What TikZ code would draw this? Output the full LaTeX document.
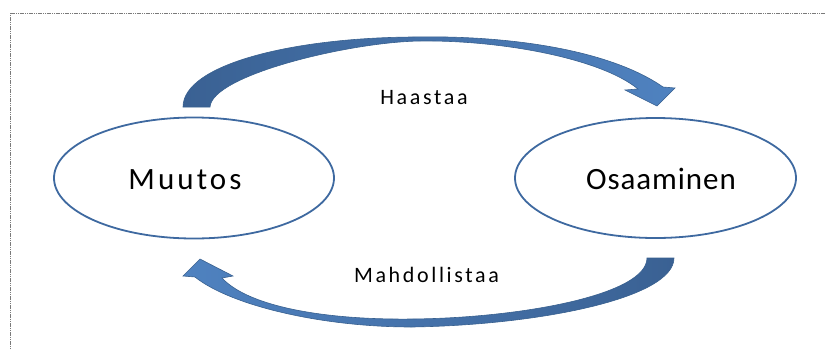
\documentclass[tikz,border=0pt]{standalone}
\usepackage{fontspec}
\newfontfamily\calfont{Carlito}
\definecolor{ellblue}{HTML}{3E69A0}
\definecolor{arrdark}{HTML}{3A6193}
\definecolor{arrlight}{HTML}{4F82C0}
\definecolor{arredge}{HTML}{38608F}
\definecolor{framegray}{HTML}{7A7A7A}
\begin{document}
\begin{tikzpicture}[x=1pt,y=-1pt,
  bigtext/.style={font=\calfont\fontsize{31}{34}\selectfont, anchor=base, text=black},
  labeltext/.style={font=\calfont\fontsize{22}{25}\selectfont, anchor=base, text=black},
  blockarrow/.style={draw=arredge, line width=0.6pt}
]
\useasboundingbox (0,0) rectangle (825,349);
% frame
\draw[framegray, line width=1pt, dash pattern=on 1.2pt off 0.6pt] (10,349) -- (10,13) -- (825,13);

% ellipses
\draw[ellblue, line width=1.8pt] (194,178) ellipse [x radius=140, y radius=60.5];
\draw[ellblue, line width=1.8pt] (655.5,178) ellipse [x radius=140.5, y radius=60];

\node[bigtext] (muutos) at (185,189) {\addfontfeatures{LetterSpace=10}Muutos};
\node[bigtext] (osaaminen) at (661,189) {\addfontfeatures{LetterSpace=3}Osaaminen};

% top curved arrow (Haastaa)
\shade[blockarrow, left color=arrdark, right color=arrlight]
  (183,107) .. controls (183,65) and (290,38) .. (412,37)
  .. controls (510,35) and (610,50) .. (663,87)
  -- (675,88) -- (657,106) -- (625,90) -- (638,89)
  .. controls (600,58) and (500,40) .. (420,41)
  .. controls (350,42) and (212,75) .. (210,107)
  -- cycle;

% bottom curved arrow (Mahdollistaa)
\shade[blockarrow, left color=arrlight, right color=arrdark]
  (674,258) .. controls (674,298) and (540,325) .. (412,327)
  .. controls (320,327) and (230,305) .. (195,277)
  -- (183,276) -- (200,259) -- (233,276) -- (222,278)
  .. controls (250,308) and (330,320) .. (412,319)
  .. controls (520,318) and (647,295) .. (647,258)
  -- cycle;

\node[labeltext] (haastaa) at (424,104) {\addfontfeatures{LetterSpace=12}Haastaa};
\node[labeltext] (mahd) at (426.5,282) {\addfontfeatures{LetterSpace=12}Mahdollistaa};
\end{tikzpicture}
\end{document}
